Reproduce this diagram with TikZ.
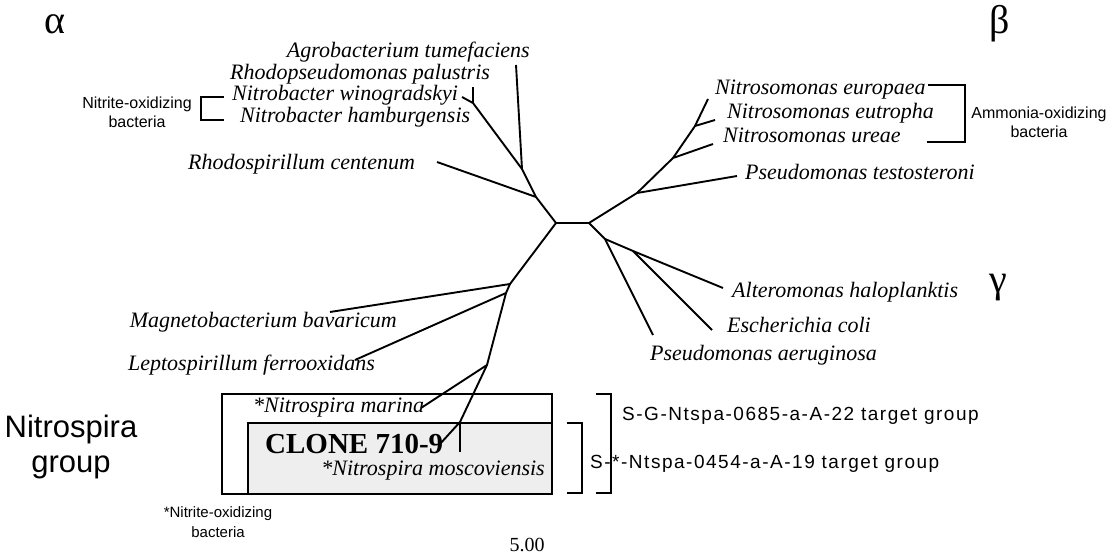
\documentclass[tikz,border=0pt]{standalone}
\usepackage{fontspec}
\setmainfont{Liberation Serif}
\newfontfamily\sansf{Liberation Sans}
\newfontfamily\sanstrack[LetterSpace=8]{Liberation Sans}
\begin{document}
\begin{tikzpicture}[x=1pt,y=-1pt,
  branch/.style={line width=1.9pt,line join=round},
  brk/.style={line width=1.4pt},
  sp/.style={font=\fontsize{22}{24}\selectfont\itshape,inner sep=0pt},
  lab/.style={font=\sansf\fontsize{16}{19}\selectfont,align=center,inner sep=0pt},
  tgt/.style={font=\sanstrack\fontsize{19}{21}\selectfont,inner sep=0pt},
  greek/.style={font=\fontsize{40}{42}\selectfont,inner sep=0pt},
  boxst/.style={line width=1.6pt}]
\useasboundingbox (0,0) rectangle (1106,556);
% boxes
\draw[boxst] (222,394) rectangle (552,494);
\draw[boxst,fill=gray!13] (248,423) rectangle (552,494);
% tree coordinates
\coordinate (L) at (556,223);
\coordinate (R) at (589,223);
\coordinate (A1) at (536,197);
\coordinate (A2) at (522,169);
\coordinate (P) at (473,103);
\coordinate (agro) at (516,65);
\coordinate (rpal) at (473,87);
\coordinate (nwin) at (462,97);
\coordinate (rcen) at (437,162);
\coordinate (B1) at (510,284);
\coordinate (B2) at (506,293);
\coordinate (B3) at (487,365);
\coordinate (B4) at (460,422);
\coordinate (mag) at (330,312);
\coordinate (lep) at (355,360);
\coordinate (nmar) at (421,408);
\coordinate (clone) at (440,444);
\coordinate (nmos) at (460,452);
\coordinate (G1) at (605,239);
\coordinate (G2) at (633,251);
\coordinate (alt) at (723,288);
\coordinate (eco) at (712,330);
\coordinate (aer) at (653,335);
\coordinate (T1) at (637,193);
\coordinate (T2) at (673,158);
\coordinate (T3) at (695,126);
\coordinate (tes) at (737,176);
\coordinate (ure) at (713,144);
\coordinate (eut) at (715,120);
\coordinate (eur) at (708,99);
% branches
\draw[branch] (L) -- (R);
\draw[branch] (L) -- (A1) -- (A2) -- (agro);
\draw[branch] (A1) -- (rcen);
\draw[branch] (A2) -- (P) -- (nwin);
\draw[branch] (P) -- (rpal);
\draw[branch] (L) -- (B1) -- (mag);
\draw[branch] (B1) -- (B2) -- (lep);
\draw[branch] (B2) -- (B3) -- (nmar);
\draw[branch] (B3) -- (B4) -- (clone);
\draw[branch] (B4) -- (nmos);
\draw[branch] (R) -- (G1) -- (aer);
\draw[branch] (G1) -- (G2) -- (alt);
\draw[branch] (G2) -- (eco);
\draw[branch] (R) -- (T1) -- (tes);
\draw[branch] (T1) -- (T2) -- (ure);
\draw[branch] (T2) -- (T3) -- (eut);
\draw[branch] (T3) -- (eur);
% species labels
\node[sp,anchor=base east] (tAgro) at (530,58) {Agrobacterium tumefaciens};
\node[sp,anchor=base west] (tRpal) at (230,80) {Rhodopseudomonas palustris};
\node[sp,anchor=base west] (tNwin) at (232,101) {Nitrobacter winogradskyi};
\node[sp,anchor=base west] (tNham) at (240,123) {Nitrobacter hamburgensis};
\node[sp,anchor=base west] (tRcen) at (188,170) {Rhodospirillum centenum};
\node[sp,anchor=base east] (tMag) at (397,327) {Magnetobacterium bavaricum};
\node[sp,anchor=base east] (tLep) at (375,370) {Leptospirillum ferrooxidans};
\node[sp,anchor=base west] (tEur) at (715,95) {Nitrosomonas europaea};
\node[sp,anchor=base west] (tEut) at (727,119) {Nitrosomonas eutropha};
\node[sp,anchor=base west] (tUre) at (723,143) {Nitrosomonas ureae};
\node[sp,anchor=base west] (tTes) at (745,180) {Pseudomonas testosteroni};
\node[sp,anchor=base west] (tAlt) at (732,297) {Alteromonas haloplanktis};
\node[sp,anchor=base west] (tEco) at (727,332) {Escherichia coli};
\node[sp,anchor=base west] (tAer) at (650,360) {Pseudomonas aeruginosa};
\node[sp,anchor=base west] (tMar) at (253,412) {*Nitrospira marina};
\node[sp,anchor=base east] (tMos) at (545,475) {*Nitrospira moscoviensis};
\node[font=\fontsize{29}{30}\selectfont\bfseries,inner sep=0pt,anchor=base west] (tClone) at (265,453) {CLONE 710-9};
% greek
\node[greek] (alpha) at (55,24) {α};
\node[greek] (beta) at (1000,24) {β};
\node[greek] (gamma) at (998,288) {γ};
% brackets
\draw[brk] (224,97) -- (201,97) -- (201,120) -- (224,120);
\node[lab] (nitox) at (137,112) {Nitrite-oxidizing\\bacteria};
\draw[brk] (928,85) -- (965,85) -- (965,142) -- (927,142);
\node[lab] (ammox) at (1039,122) {Ammonia-oxidizing\\bacteria};
\draw[brk] (567,423) -- (582,423) -- (582,493) -- (567,493);
\draw[brk] (596,394) -- (611,394) -- (611,493) -- (596,493);
\node[tgt,anchor=west] (sg) at (622,416) {S-G-Ntspa-0685-a-A-22 target group};
\node[tgt,anchor=west] (ss) at (590,464) {S-*-Ntspa-0454-a-A-19 target group};
\node[font=\sansf\fontsize{31}{35}\selectfont,align=center,inner sep=0pt] (grp) at (71,447) {Nitrospira\\group};
\node[font=\sansf\fontsize{15}{20}\selectfont,align=center,inner sep=0pt] (foot) at (218,522) {*Nitrite-oxidizing\\bacteria};
\node[font=\fontsize{20}{22}\selectfont,inner sep=0pt] (scale) at (527,545) {5.00};
\end{tikzpicture}
\end{document}
